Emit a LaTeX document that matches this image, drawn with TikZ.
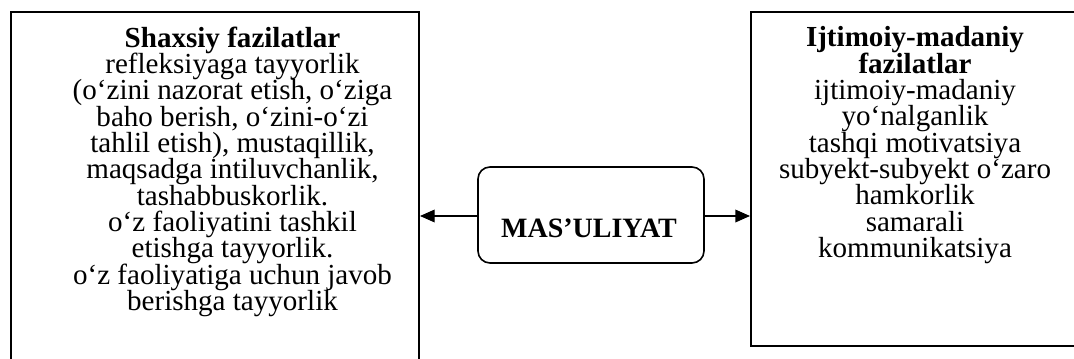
\documentclass[tikz,border=0pt]{standalone}
\usepackage{fontspec}
\setmainfont{Liberation Serif}
\usetikzlibrary{arrows.meta}
\newcommand\tightlines{\setlength{\lineskiplimit}{-50pt}\setlength{\lineskip}{0pt}}
\begin{document}
\begin{tikzpicture}[x=0.75pt,y=-0.75pt,
  frame/.style={draw, line width=1.5pt, inner sep=0pt, anchor=north west},
  roundbox/.style={draw, line width=1.2pt, rounded corners=9pt, inner sep=0pt,
    minimum width=169.5pt, minimum height=72pt},
  body/.style={align=center, inner sep=0pt, anchor=north,
    font=\fontsize{21.8}{19.75}\selectfont\tightlines},
  arr/.style={line width=1pt, -{Triangle[length=11pt,width=9.5pt]}}
]
\useasboundingbox (0,0) rectangle (1074,358);
\clip (0,0) rectangle (1074,358);
\node[frame, minimum width=306pt, minimum height=270pt] (L) at (10,11) {};
\node[frame, minimum width=255pt, minimum height=250.5pt] (R) at (750,11) {};
\node[roundbox] (C) at (591,215) {};
\node[anchor=base, inner sep=0pt, font=\fontsize{21}{24}\selectfont\bfseries] (Ct) at (589,237) {MAS’ULIYAT};
\node[body] (Lt) at (232.5,26.5) {{\bfseries Shaxsiy fazilatlar}\\
refleksiyaga tayyorlik\\
(o‘zini nazorat etish, o‘ziga\\
baho berish, o‘zini-o‘zi\\
tahlil etish), mustaqillik,\\
maqsadga intiluvchanlik,\\
tashabbuskorlik.\\
o‘z faoliyatini tashkil\\
etishga tayyorlik.\\
o‘z faoliyatiga uchun javob\\
berishga tayyorlik};
\node[body] (Rt) at (915,26.5) {{\bfseries Ijtimoiy-madaniy}\\
{\bfseries fazilatlar}\\
ijtimoiy-madaniy\\
yo‘nalganlik\\
tashqi motivatsiya\\
subyekt-subyekt o‘zaro\\
hamkorlik\\
samarali\\
kommunikatsiya};
\draw[arr] (C.west |- 0,216) -- (L.east |- 0,216);
\draw[arr] (C.east |- 0,216) -- (R.west |- 0,216);
\end{tikzpicture}
\end{document}
